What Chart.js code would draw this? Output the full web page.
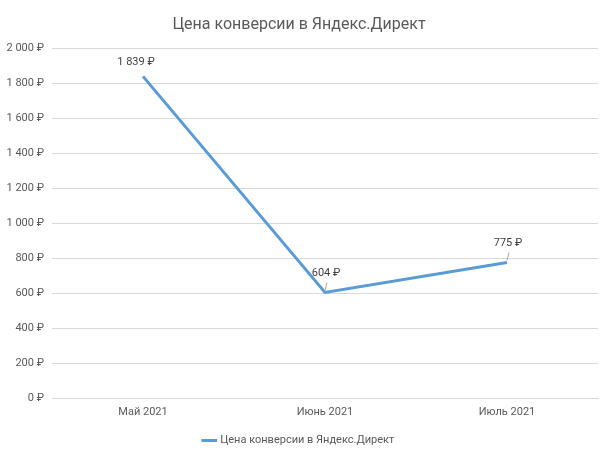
<!DOCTYPE html>
<html>
<head>
<meta charset="utf-8">
<script src="https://cdn.jsdelivr.net/npm/chart.js@4"></script>
<style>
  html, body { margin: 0; padding: 0; background: #fff; }
  #wrap { width: 615px; height: 458px; }
</style>
</head>
<body>
<div id="wrap"><canvas id="grafico"></canvas></div>
<script>
// Данные графика
var months = ['Май 2021', 'Июнь 2021', 'Июль 2021'];
var costValues = [1839, 604, 775];
var seriesName = 'Цена конверсии в Яндекс.Директ';

// Формат рублей: 1 839 ₽
function rub(v) {
  return String(v).replace(/\B(?=(\d{3})+(?!\d))/g, ' ') + ' ₽';
}

// Подписи данных над точками (как в Excel)
var dataLabels = {
  id: 'dataLabels',
  afterDatasetsDraw: function (chart) {
    var ctx = chart.ctx;
    var meta = chart.getDatasetMeta(0);
    ctx.save();
    ctx.font = '11px Roboto, "Open Sans", sans-serif';
    ctx.fillStyle = '#404040';
    ctx.textAlign = 'center';
    ctx.textBaseline = 'middle';
    meta.data.forEach(function (pt, i) {
      var lx, ly;
      if (i > 0) {
        // выносная линия
        ctx.strokeStyle = '#a6a6a6';
        ctx.lineWidth = 1;
        ctx.beginPath();
        ctx.moveTo(pt.x, pt.y - 2);
        ctx.lineTo(pt.x + 2, pt.y - 10);
        ctx.stroke();
        lx = pt.x + 1; ly = pt.y - 19;
      } else {
        lx = pt.x - 7; ly = pt.y - 14;
      }
      ctx.fillText(rub(costValues[i]), lx, ly);
    });
    ctx.restore();
  }
};

var ctx1 = document.getElementById('grafico').getContext('2d');
var grafico = new Chart(ctx1, {
  type: 'line',
  data: {
    labels: months,
    datasets: [{
      label: seriesName,
      data: costValues,
      borderColor: 'rgb(91, 155, 213)',
      backgroundColor: 'rgb(91, 155, 213)',
      borderWidth: 3,
      pointRadius: 0,
      pointHoverRadius: 0,
      tension: 0
    }]
  },
  options: {
    responsive: true,
    maintainAspectRatio: false,
    animation: false,
    layout: { padding: { left: 0, right: 17, top: 13, bottom: 2 } },
    plugins: {
      title: {
        display: true,
        text: seriesName,
        color: '#595959',
        font: { family: 'Roboto, "Open Sans", sans-serif', size: 16, weight: 'normal' },
        padding: { top: 2, bottom: 14 }
      },
      legend: {
        position: 'bottom',
        labels: {
          usePointStyle: true,
          pointStyle: 'line',
          boxWidth: 28,
          padding: 10,
          color: '#595959',
          font: { family: 'Roboto, "Open Sans", sans-serif', size: 11 }
        }
      },
      tooltip: { enabled: false }
    },
    scales: {
      y: {
        min: 0,
        max: 2000,
        ticks: {
          stepSize: 200,
          color: '#595959',
          padding: 8,
          font: { family: 'Roboto, "Open Sans", sans-serif', size: 11 },
          callback: function (value) { return rub(value); }
        },
        border: { display: false },
        grid: { color: '#d9d9d9', drawTicks: false },
        afterFit: function (scale) { scale.width = 52; }
      },
      x: {
        offset: true,
        ticks: {
          color: '#595959',
          padding: 8,
          maxRotation: 0,
          font: { family: 'Roboto, "Open Sans", sans-serif', size: 11 }
        },
        border: { color: '#d9d9d9' },
        grid: { display: false, drawTicks: false },
        afterFit: function (scale) { scale.height = 27; }
      }
    }
  },
  plugins: [dataLabels]
});
</script>
</body>
</html>
